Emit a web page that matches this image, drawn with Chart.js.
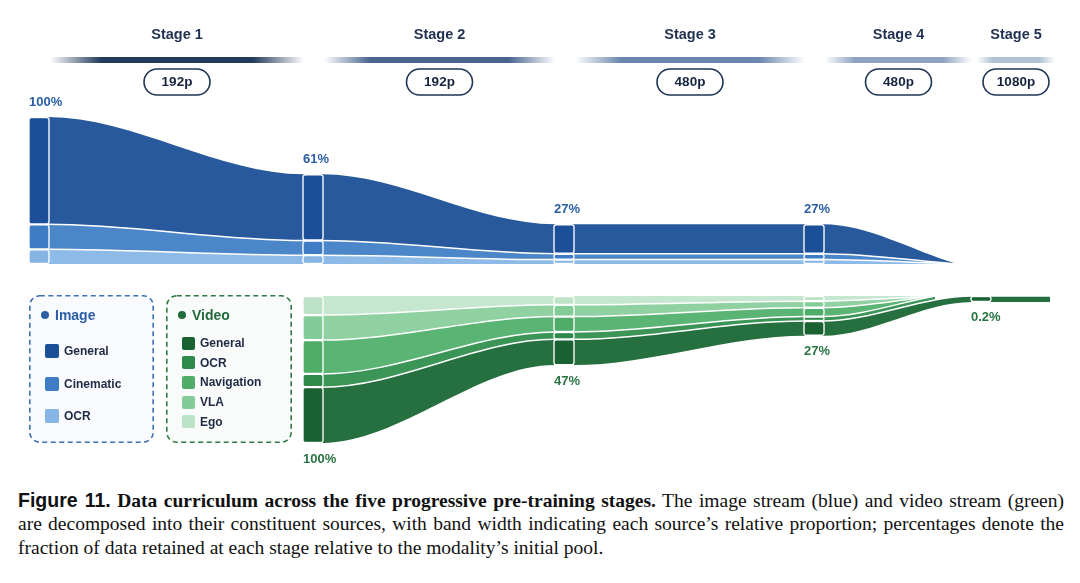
<!DOCTYPE html>
<html>
<head>
<meta charset="utf-8">
<script src="https://cdn.jsdelivr.net/npm/chart.js@4.4.1/dist/chart.umd.min.js"></script>
<style>
  html, body { margin: 0; padding: 0; background: #fff; }
  #wrap { position: relative; width: 1080px; height: 583px; overflow: hidden; }
  #chart { position: absolute; left: 0; top: 0; }
  .legend { position: absolute; top: 295px; height: 148px;
            font-family: "Liberation Sans", Arial, sans-serif; font-weight: bold; }
  .legend svg { position: absolute; left: 0; top: 0; }
  .legend .dot { position: absolute; width: 8px; height: 8px; border-radius: 50%; }
  .legend .title { position: absolute; font-size: 14px; line-height: 16px; }
  .legend .sw { position: absolute; border-radius: 2px; }
  .legend .lbl { position: absolute; font-size: 12px; line-height: 14px; color: #1f2a44; }
  #caption { position: absolute; left: 18px; top: 489px; width: 1046px; color: #111;
             font-family: "Liberation Serif", "Times New Roman", serif; font-size: 19.5px; line-height: 23.3px; }
  #caption .j { text-align: justify; text-align-last: justify; }
  #caption .fig { font-family: "Liberation Sans", Arial, sans-serif; font-weight: bold; }
</style>
</head>
<body>
<div id="wrap">
  <canvas id="chart" width="1080" height="470"></canvas>
  <div class="legend" id="imgLegend" style="left:29px;width:125px;"></div>
  <div class="legend" id="vidLegend" style="left:166px;width:126px;"></div>
  <div id="caption">
    <div class="j"><span class="fig">Figure 11.</span> <b>Data curriculum across the five progressive pre-training stages.</b> The image stream (blue) and video stream (green)</div>
    <div class="j">are decomposed into their constituent sources, with band width indicating each source’s relative proportion; percentages denote the</div>
    <div>fraction of data retained at each stage relative to the modality’s initial pool.</div>
  </div>
</div>
<script>
const stages = ['Stage 1', 'Stage 2', 'Stage 3', 'Stage 4', 'Stage 5'];
const resolutions = ['192p', '192p', '480p', '480p', '1080p'];

// share of each modality's initial pool still used at every stage (%)
const imageRetained = [100, 61, 27, 27, 0];
const videoRetained = [null, 100, 47, 27, 0.2];

// image sources, % of the initial image pool
const imageGeneral = [73, 45, 20, 20, 0];
const imageCinematic = [17, 10, 4, 4, 0];
const imageOCR = [10, 6, 3, 3, 0];

// video sources, % of the initial video pool (video starts at stage 2)
const videoGeneral = [null, 38, 17.5, 10, 0.2];
const videoOCR = [null, 9, 5, 3, 0];
const videoNavigation = [null, 23, 10.5, 6, 0];
const videoVLA = [null, 17, 8, 4.5, 0];
const videoEgo = [null, 13, 6, 3.5, 0];

// layout
const W = 1080, H = 470;
const PX_PER_PCT = 1.47;
const STAGE_X = [30, 304, 555, 805, 972];   // left edge of each stage node
const NODE_W = 18;
const END_X = 1050;
const IMG_FADE_X = 957, VID_FADE_X = 935;
const IMG_BASE = (H - 264) / PX_PER_PCT;    // image stream sits on this line
const VID_TOP = (H - 296) / PX_PER_PCT;     // video stream hangs from this line
const TAIL_UNITS = 4;                       // tiny shares (<1%) drawn at this thickness
const BAR_RGB = ['36,59,94', '74,102,144', '106,135,173', '142,163,194', '177,192,211'];

// stacking order: from the base line outwards
const imageSources = [
  { name: 'OCR', values: imageOCR, flow: '#8dbae7', node: '#86b5e4' },
  { name: 'Cinematic', values: imageCinematic, flow: '#4a86c8', node: '#3e7dc5' },
  { name: 'General', values: imageGeneral, flow: '#27599c', node: '#1b4f98' }
];
const videoSources = [
  { name: 'Ego', values: videoEgo, flow: '#c6e7cf', node: '#bde2c7' },
  { name: 'VLA', values: videoVLA, flow: '#8fd1a1', node: '#83cb97' },
  { name: 'Navigation', values: videoNavigation, flow: '#5ab474', node: '#4fad69' },
  { name: 'OCR', values: videoOCR, flow: '#3a9556', node: '#2e8a4b' },
  { name: 'General', values: videoGeneral, flow: '#266f3f', node: '#1b6233' }
];

const shown = v => (v > 0 && v < 1) ? TAIL_UNITS : (v || 0);

const datasets = [];

function buildStream(sources, base, dir, fadeX) {
  const n = sources.length;
  const first = datasets.length;
  // boundary k lies between source k-1 and source k
  for (let k = 0; k <= n; k++) {
    const pts = [];
    let alive = true;
    for (let s = 0; s < stages.length && alive; s++) {
      if (sources[0].values[s] === null) continue;
      let cum = 0;
      for (let j = 0; j < k; j++) cum += shown(sources[j].values[s]);
      const below = k > 0 ? shown(sources[k - 1].values[s]) : 0;
      const above = k < n ? shown(sources[k].values[s]) : 0;
      const y = base + dir * cum;
      if (below === 0 && above === 0) {
        pts.push({ x: fadeX, y });
        alive = false;
      } else {
        pts.push({ x: STAGE_X[s], y }, { x: STAGE_X[s] + NODE_W, y });
      }
    }
    if (alive) pts.push({ x: END_X, y: pts[pts.length - 1].y });
    const inner = k > 0 && k < n;
    datasets.push({
      type: 'line',
      data: pts,
      borderColor: inner ? '#ffffff' : 'rgba(0,0,0,0)',
      borderWidth: 1.5,
      backgroundColor: k > 0 ? sources[k - 1].flow : 'rgba(0,0,0,0)',
      fill: k > 0 ? { target: first + k - 1 } : false,
      pointRadius: 0,
      cubicInterpolationMode: 'monotone',
      order: 1
    });
  }
  // stage nodes
  sources.forEach((src, j) => {
    const bars = [];
    stages.forEach((st, s) => {
      const v = shown(src.values[s]);
      if (!v) return;
      let cum = 0;
      for (let i = 0; i < j; i++) cum += shown(sources[i].values[s]);
      const a = base + dir * cum, b = base + dir * (cum + v);
      bars.push({ x: STAGE_X[s] + NODE_W / 2, y: [Math.min(a, b), Math.max(a, b)] });
    });
    datasets.push({
      type: 'bar',
      data: bars,
      backgroundColor: src.node,
      borderColor: '#ffffff',
      borderWidth: 1.5,
      borderSkipped: false,
      borderRadius: 3,
      barThickness: NODE_W + 3,
      grouped: false,
      order: 0
    });
  });
}

buildStream(imageSources, IMG_BASE, 1, IMG_FADE_X);
buildStream(videoSources, VID_TOP, -1, VID_FADE_X);

const headerPlugin = {
  id: 'stageHeaders',
  afterDraw(chart) {
    const { ctx, scales: { x } } = chart;
    ctx.save();
    stages.forEach((label, i) => {
      const x0 = x.getPixelForValue(i < 4 ? STAGE_X[i] + NODE_W + 2 : STAGE_X[i] + 5);
      const x1 = x.getPixelForValue(i < 4 ? STAGE_X[i + 1] : END_X + 5);
      const cx = (x0 + x1) / 2;
      const g = ctx.createLinearGradient(x0, 0, x1, 0);
      const c = BAR_RGB[i];
      g.addColorStop(0, `rgba(${c},0)`);
      g.addColorStop(0.1, `rgba(${c},0.5)`);
      g.addColorStop(0.2, `rgba(${c},1)`);
      g.addColorStop(0.8, `rgba(${c},1)`);
      g.addColorStop(0.9, `rgba(${c},0.5)`);
      g.addColorStop(1, `rgba(${c},0)`);
      ctx.fillStyle = g;
      ctx.fillRect(x0, 57, x1 - x0, 6);

      ctx.textAlign = 'center';
      ctx.textBaseline = 'middle';
      ctx.font = 'bold 14.5px "Liberation Sans", Arial, sans-serif';
      ctx.fillStyle = '#1f3050';
      ctx.fillText(label, cx, 35);

      ctx.beginPath();
      ctx.roundRect(cx - 33, 69, 66, 26, 13);
      ctx.fillStyle = '#ffffff';
      ctx.fill();
      ctx.lineWidth = 1.6;
      ctx.strokeStyle = '#1f3556';
      ctx.stroke();
      ctx.font = 'bold 13.5px "Liberation Sans", Arial, sans-serif';
      ctx.fillStyle = '#16243d';
      ctx.fillText(resolutions[i], cx, 82.5);
    });
    ctx.restore();
  }
};

const pctPlugin = {
  id: 'pctLabels',
  afterDatasetsDraw(chart) {
    const { ctx, scales: { x, y } } = chart;
    ctx.save();
    ctx.font = 'bold 13px "Liberation Sans", Arial, sans-serif';
    ctx.textAlign = 'left';
    ctx.textBaseline = 'middle';
    imageRetained.forEach((v, s) => {
      if (!v) return;
      const total = imageSources.reduce((t, src) => t + shown(src.values[s]), 0);
      ctx.fillStyle = '#2b5ea5';
      ctx.fillText(v + '%', x.getPixelForValue(STAGE_X[s]) - 1, y.getPixelForValue(IMG_BASE + total) - 15);
    });
    videoRetained.forEach((v, s) => {
      if (!v) return;
      const total = videoSources.reduce((t, src) => t + shown(src.values[s]), 0);
      ctx.fillStyle = '#2a7444';
      ctx.fillText(v + '%', x.getPixelForValue(STAGE_X[s]) - 1, y.getPixelForValue(VID_TOP - total) + 16);
    });
    ctx.restore();
  }
};

new Chart(document.getElementById('chart'), {
  type: 'line',
  data: { datasets },
  options: {
    responsive: false,
    animation: false,
    events: [],
    layout: { padding: 0 },
    scales: {
      x: { type: 'linear', min: 0, max: W, display: false, offset: false },
      y: { type: 'linear', min: 0, max: H / PX_PER_PCT, display: false }
    },
    plugins: {
      legend: { display: false },
      tooltip: { enabled: false },
      filler: { drawTime: 'beforeDatasetsDraw' }
    }
  },
  plugins: [headerPlugin, pctPlugin]
});

// legends (dashed frame drawn as svg so the dash rhythm matches)
function fillLegend(el, title, color, frame, bg, sources, size, y0, step) {
  const w = el.offsetWidth, h = el.offsetHeight;
  let html = `<svg width="${w}" height="${h}"><rect x="0.8" y="0.8" width="${w - 1.6}" height="${h - 1.6}" rx="10" ry="10"` +
             ` fill="${bg}" stroke="${frame}" stroke-width="1.6" stroke-dasharray="5 3.5"/></svg>`;
  html += `<div class="dot" style="left:12px;top:16px;background:${color}"></div>` +
          `<div class="title" style="left:26px;top:12px;color:${color}">${title}</div>`;
  sources.slice().reverse().forEach((src, i) => {
    const cy = y0 + i * step;
    html += `<div class="sw" style="left:16px;top:${cy - size / 2}px;width:${size}px;height:${size}px;background:${src.node}"></div>` +
            `<div class="lbl" style="left:${size + 21}px;top:${cy - 7}px">${src.name}</div>`;
  });
  el.innerHTML = html;
}
fillLegend(document.getElementById('imgLegend'), 'Image', '#2b5ea5', '#3d70b5', '#f8fafd', imageSources, 14, 56, 32.5);
fillLegend(document.getElementById('vidLegend'), 'Video', '#226b3b', '#2f7a47', '#f9fbfa', videoSources, 13, 48, 19.7);
</script>
</body>
</html>
